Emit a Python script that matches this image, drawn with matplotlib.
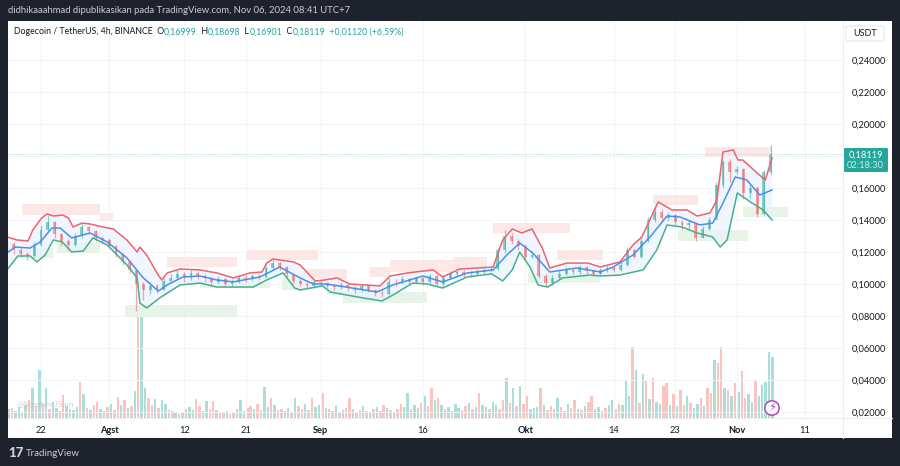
import matplotlib
matplotlib.use("Agg")
import matplotlib.pyplot as plt
from matplotlib.patches import Rectangle, FancyBboxPatch, Circle
from matplotlib.ticker import FuncFormatter
import numpy as np

# days counted from 22 Jul 2024
tick_days = [0, 10, 21, 30, 41, 56, 71, 84, 93, 102, 112]
tick_labels = ["22", "Agst", "12", "21", "Sep", "16", "Okt", "14", "23", "Nov", "11"]
month_labels = ["Agst", "Sep", "Okt", "Nov"]
price_ticks = [0.02, 0.04, 0.06, 0.08, 0.10, 0.12, 0.14, 0.16, 0.18, 0.20, 0.22, 0.24]
price_tick_labels = [0.02, 0.04, 0.06, 0.08, 0.10, 0.12, 0.14, 0.16, 0.20, 0.22, 0.24]

candle_days = list(range(-5, 108))
closes = [
    .1250, .1215, .1190, .1175, .1245, .1340, .1390, .1310, .1270, .1245,
    .1300, .1355, .1330, .1290, .1275, .1240, .1185, .1140, .1085, .1000,
    .0960, .0985, .0965, .1020, .1040, .1060, .1035, .1070, .1050, .1040,
    .1010, .1030, .1000, .1015, .1040, .1030, .1050, .1045, .1100, .1130,
    .1105, .1060, .1020, .1000, .0985, .1010, .1005, .0990, .0980, .0995,
    .0975, .0960, .0985, .0965, .0945, .0935, .1015, .1010, .1030, .1010,
    .1035, .1010, .1050, .1000, .1040, .1060, .1075, .1060, .1065, .1075,
    .1085, .1095, .1210, .1300, .1270, .1240, .1170, .1180, .1050, .1005,
    .1040, .1065, .1090, .1075, .1105, .1080, .1065, .1085, .1100, .1090,
    .1120, .1210, .1170, .1270, .1400, .1450, .1410, .1430, .1390, .1370,
    .1380, .1290, .1345, .1400, .1620, .1760, .1700, .1720, .1570, .1600,
    .1440, .16999, .18119,
]
highs = [
    .1275, .1260, .1225, .1200, .1260, .1370, .1430, .1395, .1320, .1280,
    .1320, .1375, .1365, .1335, .1300, .1285, .1245, .1195, .1150, .1090,
    .1010, .1010, .1000, .1040, .1065, .1085, .1075, .1085, .1080, .1060,
    .1045, .1050, .1040, .1030, .1055, .1055, .1065, .1065, .1115, .1150,
    .1140, .1110, .1065, .1030, .1010, .1025, .1020, .1015, .1000, .1010,
    .1005, .0985, .1000, .0995, .0970, .0960, .1040, .1030, .1050, .1040,
    .1050, .1045, .1065, .1055, .1055, .1080, .1090, .1085, .1080, .1095,
    .1105, .1115, .1225, .1335, .1320, .1280, .1250, .1205, .1190, .1060,
    .1055, .1080, .1105, .1100, .1120, .1115, .1090, .1100, .1120, .1110,
    .1140, .1230, .1220, .1290, .1420, .1490, .1470, .1450, .1440, .1400,
    .1400, .1385, .1360, .1420, .1640, .1775, .1780, .1740, .1725, .1620,
    .1615, .1710, .18698,
]
lows = [
    .1220, .1190, .1170, .1150, .1170, .1240, .1330, .1290, .1240, .1215,
    .1240, .1290, .1310, .1270, .1250, .1225, .1170, .1120, .1070, .0830,
    .0900, .0940, .0945, .0960, .1010, .1030, .1015, .1025, .1030, .1015,
    .0990, .1000, .0985, .0990, .1005, .1010, .1020, .1025, .1040, .1090,
    .1085, .1040, .1000, .0985, .0970, .0975, .0985, .0975, .0965, .0970,
    .0955, .0945, .0950, .0950, .0925, .0920, .0930, .0990, .1000, .0995,
    .1005, .0995, .1000, .0985, .0990, .1030, .1050, .1045, .1045, .1055,
    .1065, .1075, .1090, .1195, .1250, .1210, .1150, .1160, .1040, .0985,
    .0995, .1030, .1055, .1060, .1065, .1060, .1050, .1055, .1075, .1075,
    .1080, .1110, .1160, .1165, .1260, .1390, .1390, .1395, .1365, .1340,
    .1345, .1270, .1285, .1340, .1430, .1600, .1640, .1690, .1530, .1540,
    .1420, .1430, .16901,
]

upper_days = [-5, -3.5, -1.9, -1.2, 0.1, 0.9, 1.8, 3.2, 4, 4.7, 6, 7.2, 9.1, 10.6, 12.6, 14.1, 14.5,
              15.5, 17, 17.7, 18.5, 20.4, 23.3, 25.8, 28.2, 30.6, 32.4, 33.1, 34, 37, 38, 40.2,
              41.6, 43.4, 45.3, 49.7, 51.2, 53.7, 57.5, 58.9, 61.4, 66.3, 67.7, 69.1, 70.5, 72,
              73.5, 74.6, 77.1, 80.2, 82, 84.9, 86.8, 88.1, 90.5, 92.5, 94.7, 96.2, 98.1, 99.1,
              100, 101.5, 102.2, 102.9, 105, 106.2, 107.2]
upper = [.1294, .1275, .1269, .1338, .1413, .1438, .1425, .1431, .1413, .1356, .1381, .1375, .1356, .1344,
         .1275, .1200, .1231, .1181, .1069, .1025, .1069, .1094, .1088, .1069, .1038, .1069, .1075,
         .1131, .1156, .1138, .1119, .1019, .1025, .1038, .1000, .0988, .1050, .1069, .1088, .1044,
         .1094, .1106, .1275, .1344, .1319, .1344, .1225, .1100, .1131, .1131, .1106, .1138, .1244,
         .1294, .1513, .1463, .1463, .1425, .1444, .1525, .1825, .1838, .1775, .1775, .1694, .1650, .1788]

mid_days = [-5, -3.8, -1.6, -0.1, 1.6, 2.8, 4.5, 7.2, 9.7, 12.6, 15, 17.2, 18.5, 20.8, 23.3, 25.8, 28.2,
            32.1, 35, 38, 39.9, 41.9, 49.3, 51.6, 56, 58.9, 62.5, 66.3, 68.3, 70.2, 72.1, 74.6, 78.6,
            82, 83.9, 86.8, 89.3, 91.8, 93.7, 96.6, 98.5, 100, 101.8, 103.5, 105.4, 107.2]
mid = [.1194, .1231, .1225, .1263, .1350, .1350, .1288, .1319, .1263, .1163, .1038, .0956, .0994, .1044,
       .1050, .1025, .1013, .1044, .1106, .1038, .1000, .1000, .0950, .0994, .1050, .1013, .1069, .1088,
       .1181, .1256, .1194, .1075, .1100, .1075, .1106, .1181, .1294, .1425, .1419, .1369, .1381, .1506,
       .1669, .1650, .1556, .1588]

lower_days = [-5, -3.4, -1.6, -0.6, 0.6, 1.8, 3.1, 4.5, 6.2, 7.6, 9.7, 12.6, 14.1, 14.5, 15.5, 17.4, 20.4,
              23.3, 25.8, 31.1, 33.1, 35.5, 37.2, 38, 41.3, 42.4, 47.2, 50, 51.6, 54.5, 56.6, 58.9, 62.5,
              66.1, 67.7, 69.1, 70.2, 71.7, 72.9, 74.3, 76.5, 80.5, 82, 84.9, 88.3, 90.3, 91.8, 94, 96.2,
              98.5, 99.6, 100.6, 102.1, 104, 105.9, 107.2]
lower = [.1088, .1175, .1175, .1138, .1181, .1275, .1263, .1200, .1206, .1288, .1244, .1119, .1038, .0881,
         .0850, .0913, .0994, .1006, .0981, .0981, .1025, .1069, .0975, .0963, .0988, .0950, .0913, .0894,
         .0931, .1006, .1000, .0975, .1044, .1063, .1019, .1088, .1200, .1106, .0994, .0981, .1038, .1056,
         .1050, .1056, .1088, .1213, .1369, .1356, .1319, .1294, .1231, .1275, .1569, .1513, .1463, .1400]

volume_days = list(np.arange(-4.75, 107.5, 0.5))
volumes = [
    9, 10, 7, 11, 6, 13, 18, 30, 12, 48, 14, 30, 9, 16, 10, 7, 23, 12, 9, 8,
    11, 36, 24, 10, 8, 13, 16, 9, 7, 11, 14, 8, 21, 13, 18, 10, 12, 27, 103, 101,
    30, 20, 13, 19, 10, 18, 14, 8, 7, 5, 4, 6, 9, 11, 8, 19, 12, 7, 17, 9,
    17, 8, 6, 5, 7, 4, 6, 9, 18, 7, 10, 12, 9, 14, 8, 31, 11, 20, 13, 8,
    9, 7, 10, 6, 20, 12, 9, 14, 8, 20, 11, 13, 25, 10, 9, 7, 12, 6, 8, 10,
    20, 9, 6, 8, 12, 7, 5, 9, 11, 7, 13, 10, 8, 6, 9, 14, 11, 25, 9, 13,
    10, 15, 22, 12, 30, 18, 20, 13, 9, 11, 7, 14, 10, 8, 12, 15, 9, 11, 25, 13,
    11, 9, 16, 13, 9, 18, 40, 15, 30, 12, 32, 14, 22, 9, 10, 11, 30, 13, 8, 12,
    9, 20, 11, 7, 14, 10, 18, 9, 8, 12, 16, 22, 9, 11, 7, 10, 13, 18, 9, 14,
    13, 37, 22, 71, 48, 15, 44, 38, 19, 40, 16, 14, 32, 35, 13, 24, 12, 28, 13, 22,
    15, 10, 14, 20, 12, 30, 25, 58, 55, 71, 30, 28, 22, 35, 26, 47, 20, 24, 16, 38,
    22, 33, 36, 66, 61,
]
volume_dirs = (
    "uduudududududuuddudu"
    "udududduududdudududu"
    "udduduuddududuudduud"
    "duddudduuuddudduudud"
    "duududdudduududdudud"
    "duddudududdududduudu"
    "ududdudududuuddududu"
    "uduuddudududduuududd"
    "dudduddududduudduudd"
    "uuududududuuddududdu"
    "duududduddudududduud"
    "uuuuu"
)

pink_zones_start = [-2.8, 8.65, 18.5, 30.2, 39, 48.2, 51.2, 60.4, 66.3, 75.7, 89.7, 97.4]
pink_zones_end = [8.65, 10.55, 28.7, 40.6, 44.9, 51.2, 61.4, 65.4, 77.6, 82.4, 96.3, 107.2]
pink_zones_low = [.1431, .1394, .1106, .1150, .1031, .1044, .1075, .1106, .1319, .1150, .1494, .1794]
pink_zones_high = [.1500, .1444, .1169, .1213, .1094, .1106, .1150, .1169, .1381, .1213, .1556, .1856]
green_zones_start = [-3.1, 2.3, 12.3, 23.3, 35.3, 41.9, 44.3, 71.4, 93.4, 102.9]
green_zones_end = [1.8, 8.65, 28.7, 33.6, 38, 44.3, 56.6, 82, 103.7, 109.5]
green_zones_low = [.1163, .1194, .0794, .0975, .0963, .0931, .0881, .1006, .1269, .1419]
green_zones_high = [.1225, .1263, .0869, .1006, .1038, .0975, .0950, .1069, .1338, .1481]

last_price = 0.18119

UP = "#26a69a"
DOWN = "#ef5350"
DARK = "#1e222d"
TEXT = "#131722"
GRID = "#f3f4f7"

plt.rcParams["font.family"] = ["Lato", "DejaVu Sans"]

fig = plt.figure(figsize=(9, 4.66), dpi=100, facecolor=DARK)
fig.patches.append(Rectangle((8 / 900, 1 - 438 / 466), 884 / 900, 417 / 466, transform=fig.transFigure,
                             facecolor="white", edgecolor="none"))

# price panel, 1 day = 6.82 px, 0.01 = 16 px
ax = fig.add_axes([8 / 900, 1 - 418 / 466, 835 / 900, 397 / 466])
ax.set_xlim(-4.84, 117.6)
ax.set_ylim(0.01625, 0.264375)
ax.patch.set_alpha(0)
ax.set_zorder(3)
for s in ax.spines.values():
    s.set_visible(False)

ax_vol = ax.twinx()
ax_vol.set_ylim(0, 397)
ax_vol.axis("off")
ax_vol.set_zorder(2)
ax_vol.bar(volume_days, volumes, width=0.36,
           color=["#a9dfd8" if d == "u" else "#fcc4c0" for d in volume_dirs], linewidth=0)

ax.yaxis.tick_right()
ax.set_yticks(price_ticks)
ax.yaxis.set_major_formatter(FuncFormatter(
    lambda v, pos: f"{v:.5f}".replace(".", ",") if round(v, 2) in price_tick_labels else ""))
ax.set_xticks(tick_days)
ax.set_xticklabels(tick_labels)
ax.tick_params(length=0, labelsize=6.7, labelcolor=TEXT)
ax.tick_params(axis="y", pad=6)
ax.tick_params(axis="x", pad=6)
for lab in ax.get_xticklabels():
    if lab.get_text() in month_labels:
        lab.set_fontweight("bold")
ax.grid(True, color=GRID, linewidth=0.7)
ax.set_axisbelow(True)

for x0, x1, y0, y1 in zip(pink_zones_start, pink_zones_end, pink_zones_low, pink_zones_high):
    ax.add_patch(Rectangle((x0, y0), x1 - x0, y1 - y0, facecolor="#fde3e3", edgecolor="none", alpha=0.8, zorder=1))
for x0, x1, y0, y1 in zip(green_zones_start, green_zones_end, green_zones_low, green_zones_high):
    ax.add_patch(Rectangle((x0, y0), x1 - x0, y1 - y0, facecolor="#e3f2e3", edgecolor="none", alpha=0.8, zorder=1))

# band fill
ax.fill(upper_days + lower_days[::-1], upper + lower[::-1], color="#eaf3fd", alpha=0.75, linewidth=0, zorder=1.5)

opens = [closes[0]] + closes[:-1]
candle_colors = [UP if c >= o else DOWN for o, c in zip(opens, closes)]
ax.vlines(candle_days, lows, highs, colors=candle_colors, linewidth=0.9, alpha=0.5, zorder=2)
ax.bar(candle_days, np.array(closes) - np.array(opens), bottom=opens, width=0.42,
       color=candle_colors, alpha=0.5, linewidth=0, zorder=2)

line_style = dict(linewidth=1.1, zorder=3, solid_joinstyle="round")
ax.plot(upper_days, upper, color="#f0616d", **line_style)
ax.plot(mid_days, mid, color="#4d8df0", **line_style)
ax.plot(lower_days, lower, color="#45b08f", **line_style)
ax.axhline(last_price, color="#a5dcd6", linewidth=0.7, linestyle=(0, (1, 1.5)), zorder=2)

# page furniture in pixel coordinates
pg = fig.add_axes([0, 0, 1, 1])
pg.set_xlim(0, 900)
pg.set_ylim(466, 0)
pg.axis("off")
pg.patch.set_alpha(0)
pg.set_zorder(5)

pg.plot([843, 843], [21, 438], color="#eceef2", linewidth=0.8)
pg.plot([8, 892], [418, 418], color="#eceef2", linewidth=0.8)

pg.text(8, 10.5, "didhikaaahmad dipublikasikan pada TradingView.com, Nov 06, 2024 08:41 UTC+7",
        color="#c9ccd3", fontsize=6.8, va="center")

x = 14
for txt, col in [("Dogecoin / TetherUS, 4h, BINANCE  O", TEXT), ("0,16999", UP), ("  H", TEXT), ("0,18698", UP),
                 ("  L", TEXT), ("0,16901", UP), ("  C", TEXT), ("0,18119", UP), ("  +0,01120 (+6,59%)", UP)]:
    t = pg.text(x, 32, txt, color=col, fontsize=6.3, va="center")
    fig.canvas.draw()
    x += t.get_window_extent().width

pg.add_patch(FancyBboxPatch((846, 26), 38, 15, boxstyle="round,pad=0,rounding_size=2",
                            facecolor="white", edgecolor="#e0e3eb", linewidth=0.7))
pg.text(865, 33.5, "USDT", color=TEXT, fontsize=6.5, ha="center", va="center")

pg.add_patch(FancyBboxPatch((843, 148), 45, 24, boxstyle="round,pad=0,rounding_size=1.5",
                            facecolor=UP, edgecolor="none"))
pg.text(865.5, 155, "0,18119", color="white", fontsize=6.7, ha="center", va="center")
pg.text(865.5, 165.5, "02:18:30", color="#c8ebe7", fontsize=6.7, ha="center", va="center")

pg.add_patch(Circle((772, 408), 7.2, facecolor="white", edgecolor="#ab47bc", linewidth=1.1))
pg.text(772, 408, "\u26a1", color="#ab47bc", fontsize=8.5, ha="center", va="center", family="DejaVu Sans")

pg.text(18, 404, "@StephenJSam", color="#c4c6cb", fontsize=6, va="center", alpha=0.8)

pg.text(8, 453, "17", color="#d1d4dc", fontsize=9.5, fontweight="black", va="center")
pg.text(26, 453, "TradingView", color="#c9ccd3", fontsize=7, va="center")

fig.savefig("out.png", dpi=100, facecolor=DARK)
